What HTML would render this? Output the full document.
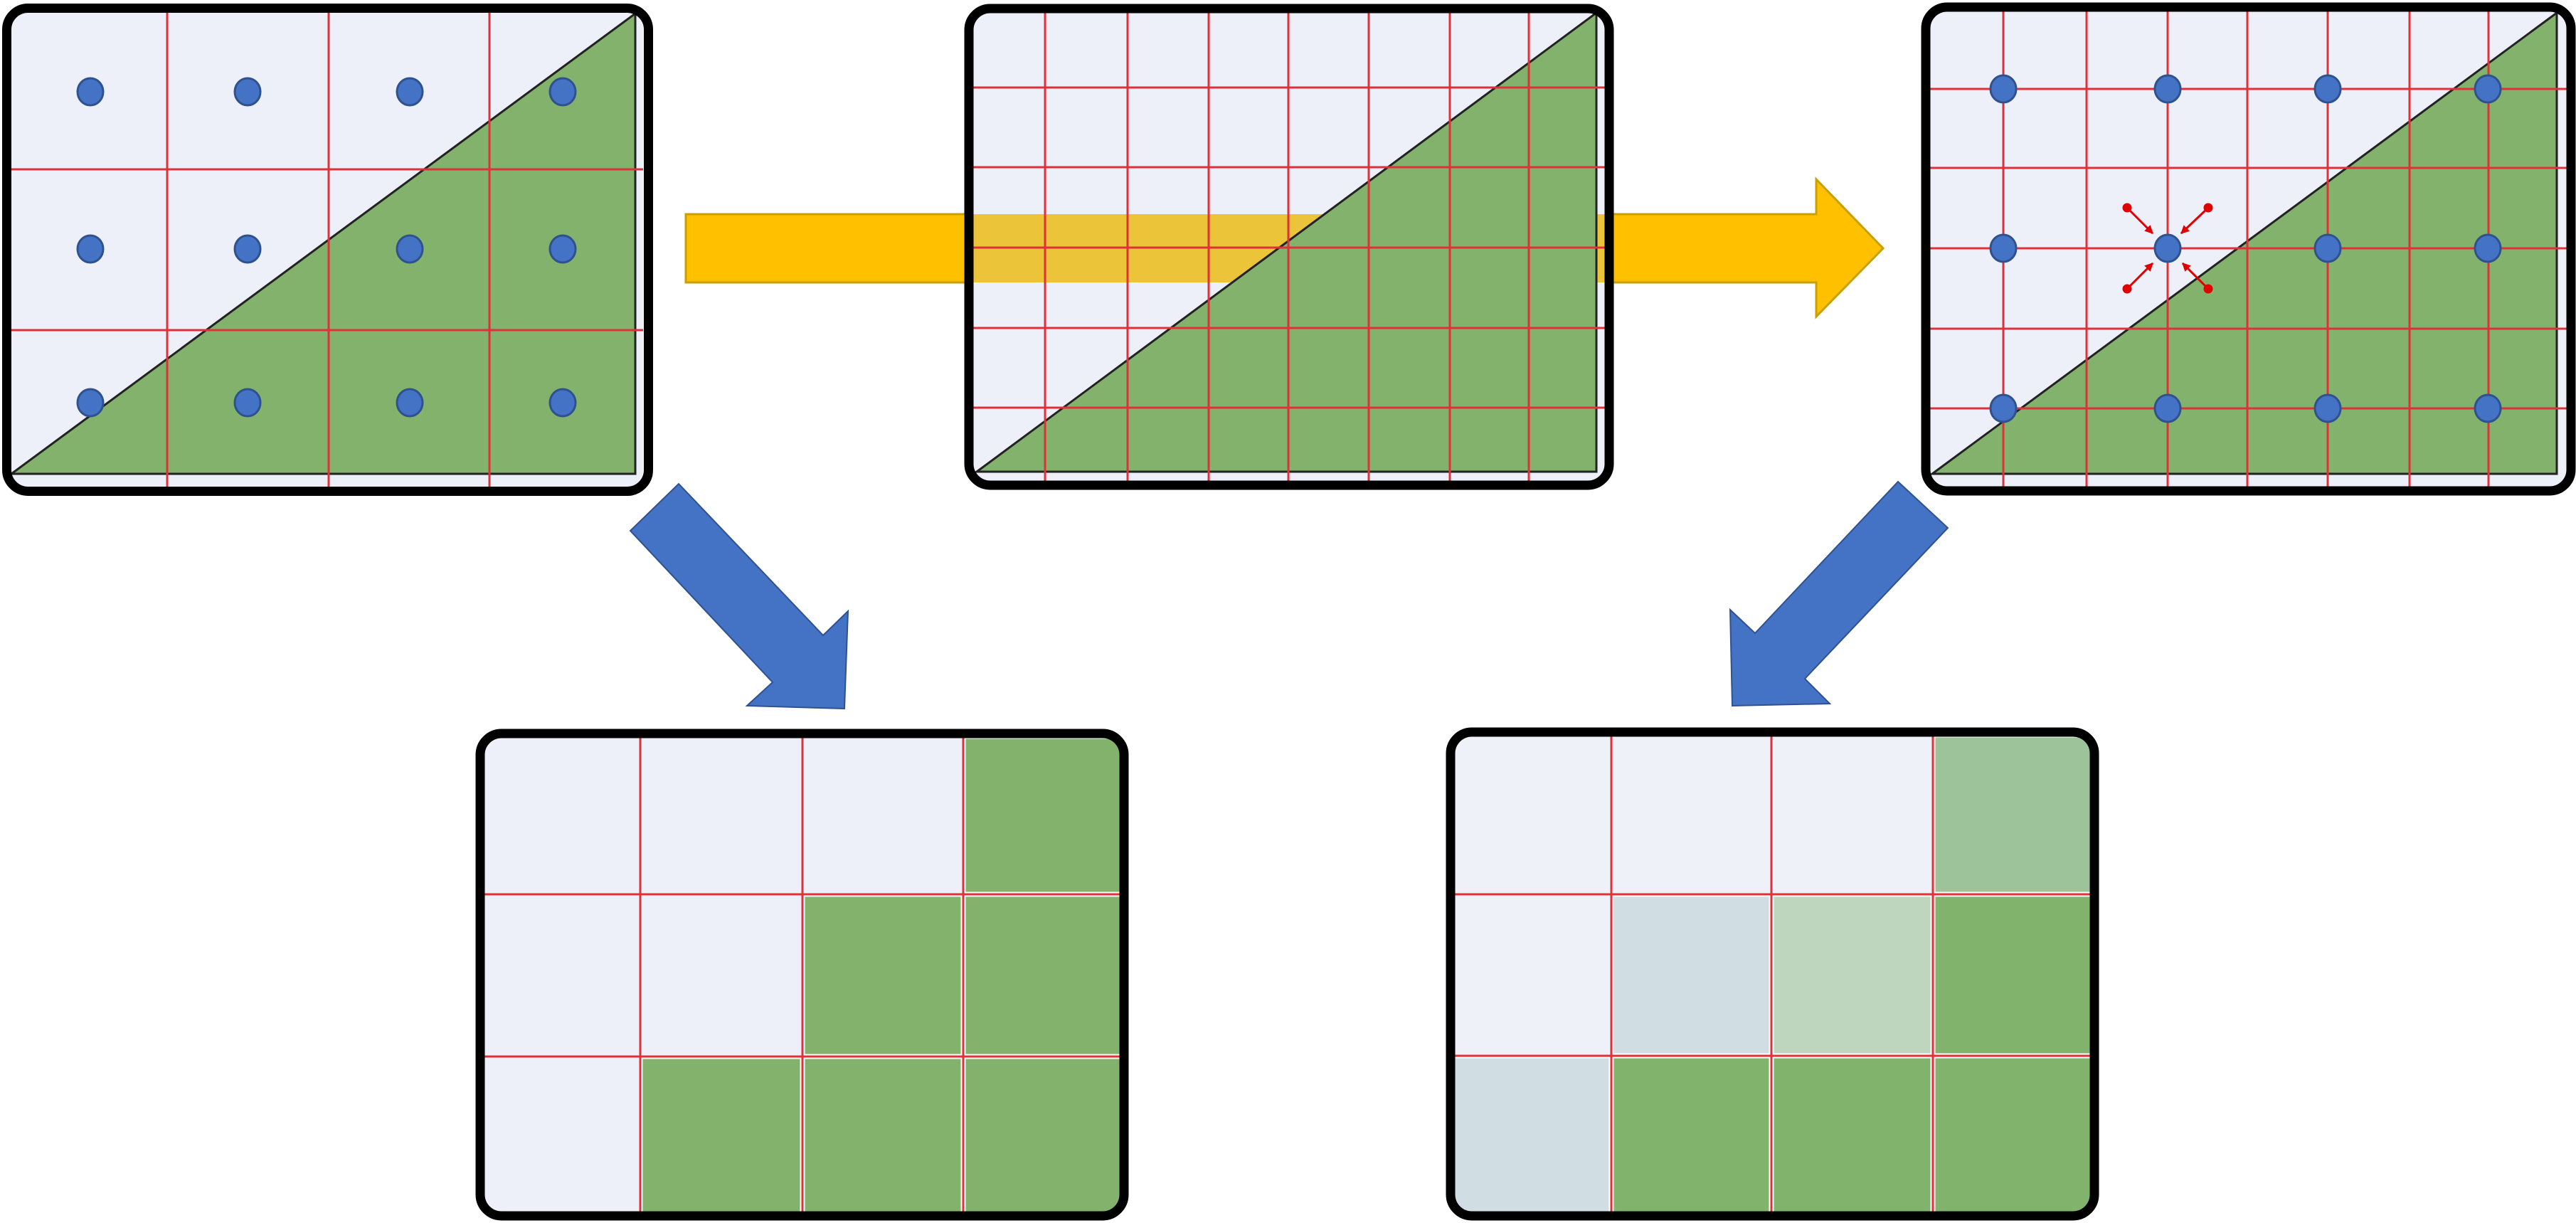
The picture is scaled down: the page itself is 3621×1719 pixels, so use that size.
<!DOCTYPE html>
<html><head><meta charset="utf-8"><style>html,body{margin:0;padding:0;background:#fff}svg{display:block}</style></head>
<body>
<svg width="3621" height="1719" viewBox="0 0 3621 1719" xmlns="http://www.w3.org/2000/svg">
<defs>
<clipPath id="c1"><rect x="14" y="16" width="890" height="669" rx="24"/></clipPath>
<clipPath id="c2"><rect x="1367" y="17" width="889" height="659" rx="24"/></clipPath>
<clipPath id="c3"><rect x="2712" y="14" width="896" height="670" rx="24"/></clipPath>
<clipPath id="c4"><rect x="680" y="1036" width="894" height="667" rx="24"/></clipPath>
<clipPath id="c5"><rect x="2044" y="1034" width="894" height="669" rx="24"/></clipPath>
<marker id="ah" viewBox="0 0 10 10" refX="9" refY="5" markerWidth="4" markerHeight="4" orient="auto"><path d="M0,0 L10,5 L0,10 z" fill="#E00000"/></marker>
</defs>

<polygon points="964,301 2553,301 2553,252 2647,349 2553,445 2553,397 964,397" fill="#FFC000" stroke="#C9A000" stroke-width="3"/>

<!-- Panel 1 -->
<g clip-path="url(#c1)">
<rect x="0" y="0" width="920" height="700" fill="#EDF0F8"/>
<polygon points="16,666 893,19 893,666" fill="#82B26C" stroke="#222" stroke-width="3"/>
<g stroke="#E0303A" stroke-width="3">
<line x1="235" y1="0" x2="235" y2="700"/><line x1="462" y1="0" x2="462" y2="700"/><line x1="688" y1="0" x2="688" y2="700"/>
<line x1="0" y1="238" x2="909" y2="238"/><line x1="0" y1="464" x2="909" y2="464"/>
</g>
<g fill="#4472C4" stroke="#2F528F" stroke-width="3">
<ellipse cx="127" cy="129" rx="18" ry="19"/><ellipse cx="348" cy="129" rx="18" ry="19"/><ellipse cx="576" cy="129" rx="18" ry="19"/><ellipse cx="791" cy="129" rx="18" ry="19"/>
<ellipse cx="127" cy="350" rx="18" ry="19"/><ellipse cx="348" cy="350" rx="18" ry="19"/><ellipse cx="576" cy="350" rx="18" ry="19"/><ellipse cx="791" cy="350" rx="18" ry="19"/>
<ellipse cx="127" cy="566" rx="18" ry="19"/><ellipse cx="348" cy="566" rx="18" ry="19"/><ellipse cx="576" cy="566" rx="18" ry="19"/><ellipse cx="791" cy="566" rx="18" ry="19"/>
</g>
</g>
<rect x="9.5" y="11.5" width="902" height="679" rx="30" fill="none" stroke="#000" stroke-width="13"/>

<!-- Panel 2 -->
<g clip-path="url(#c2)">
<rect x="1356" y="0" width="912" height="700" fill="#EDF0F8"/>
<rect x="1356" y="301" width="912" height="96" fill="#EBC43A"/>
<polygon points="1373,663 2244,18 2244,663" fill="#82B26C" stroke="#222" stroke-width="3"/>
<g stroke="#E0303A" stroke-width="3">
<line x1="1469" y1="0" x2="1469" y2="700"/><line x1="1585" y1="0" x2="1585" y2="700"/><line x1="1699" y1="0" x2="1699" y2="700"/><line x1="1811" y1="0" x2="1811" y2="700"/><line x1="1924" y1="0" x2="1924" y2="700"/><line x1="2038" y1="0" x2="2038" y2="700"/><line x1="2149" y1="0" x2="2149" y2="700"/>
<line x1="1356" y1="123" x2="2256" y2="123"/><line x1="1356" y1="235" x2="2256" y2="235"/><line x1="1356" y1="348" x2="2256" y2="348"/><line x1="1356" y1="461" x2="2256" y2="461"/><line x1="1356" y1="573" x2="2256" y2="573"/>
</g>
</g>
<rect x="1362" y="12" width="900" height="670" rx="30" fill="none" stroke="#000" stroke-width="13"/>

<!-- Panel 3 -->
<g clip-path="url(#c3)">
<rect x="2700" y="0" width="921" height="700" fill="#EDF0F8"/>
<polygon points="2716,666 3594,18 3594,666" fill="#82B26C" stroke="#222" stroke-width="3"/>
<g stroke="#E0303A" stroke-width="3">
<line x1="2816" y1="0" x2="2816" y2="700"/><line x1="2933" y1="0" x2="2933" y2="700"/><line x1="3047" y1="0" x2="3047" y2="700"/><line x1="3159" y1="0" x2="3159" y2="700"/><line x1="3272" y1="0" x2="3272" y2="700"/><line x1="3387" y1="0" x2="3387" y2="700"/><line x1="3498" y1="0" x2="3498" y2="700"/>
<line x1="2700" y1="125" x2="3609" y2="125"/><line x1="2700" y1="236" x2="3609" y2="236"/><line x1="2700" y1="349" x2="3609" y2="349"/><line x1="2700" y1="462" x2="3609" y2="462"/><line x1="2700" y1="574" x2="3609" y2="574"/>
</g>
<g fill="#4472C4" stroke="#2F528F" stroke-width="3">
<ellipse cx="2816" cy="125" rx="18" ry="19"/><ellipse cx="3047" cy="125" rx="18" ry="19"/><ellipse cx="3272" cy="125" rx="18" ry="19"/><ellipse cx="3497" cy="125" rx="18" ry="19"/>
<ellipse cx="2816" cy="349" rx="18" ry="19"/><ellipse cx="3047" cy="349" rx="18" ry="19"/><ellipse cx="3272" cy="349" rx="18" ry="19"/><ellipse cx="3497" cy="349" rx="18" ry="19"/>
<ellipse cx="2816" cy="574" rx="18" ry="19"/><ellipse cx="3047" cy="574" rx="18" ry="19"/><ellipse cx="3272" cy="574" rx="18" ry="19"/><ellipse cx="3497" cy="574" rx="18" ry="19"/>
</g>
<g stroke="#E00000" stroke-width="3" fill="#E00000">
<line x1="2990" y1="292" x2="3026" y2="328" marker-end="url(#ah)"/>
<line x1="3104" y1="292" x2="3066" y2="328" marker-end="url(#ah)"/>
<line x1="2990" y1="406" x2="3026" y2="370" marker-end="url(#ah)"/>
<line x1="3104" y1="406" x2="3068" y2="370" marker-end="url(#ah)"/>
<circle cx="2990" cy="292" r="5"/><circle cx="3104" cy="292" r="5"/><circle cx="2990" cy="406" r="5"/><circle cx="3104" cy="406" r="5"/>
</g>
</g>
<rect x="2707" y="10" width="907" height="680" rx="30" fill="none" stroke="#000" stroke-width="13"/>

<polygon points="886,746 954,680 1157,893 1192,859 1187,996 1050,992 1086,959" fill="#4472C4" stroke="#2F528F" stroke-width="2"/>
<polygon points="2668,677 2738,742 2537,954 2572,989 2435,992 2432,857 2467,890" fill="#4472C4" stroke="#2F528F" stroke-width="2"/>

<!-- Bottom panel 1 -->
<g clip-path="url(#c4)">
<rect x="669" y="1025" width="920" height="700" fill="#EDF0F8"/>
<g fill="#82B26C" stroke="#fff" stroke-width="3">
<rect x="1356" y="1037" width="222" height="218"/>
<rect x="1130" y="1259" width="222" height="224"/>
<rect x="1356" y="1259" width="222" height="224"/>
<rect x="902" y="1487" width="224" height="222"/>
<rect x="1130" y="1487" width="222" height="222"/>
<rect x="1356" y="1487" width="222" height="222"/>
</g>
<g stroke="#E0303A" stroke-width="3">
<line x1="900" y1="1025" x2="900" y2="1715"/><line x1="1128" y1="1025" x2="1128" y2="1715"/><line x1="1354" y1="1025" x2="1354" y2="1715"/>
<line x1="669" y1="1257" x2="1574" y2="1257"/><line x1="669" y1="1485" x2="1574" y2="1485"/>
</g>
</g>
<rect x="675" y="1031" width="905" height="678" rx="30" fill="none" stroke="#000" stroke-width="13"/>

<!-- Bottom panel 2 -->
<g clip-path="url(#c5)">
<rect x="2033" y="1023" width="920" height="700" fill="#EEF1F8"/>
<g stroke="#fff" stroke-width="3">
<rect x="2719" y="1035" width="222" height="220" fill="#9DC39A"/>
<rect x="2267" y="1259" width="221" height="223" fill="#D0DDE3"/>
<rect x="2492" y="1259" width="223" height="223" fill="#BDD6BD"/>
<rect x="2719" y="1259" width="222" height="223" fill="#82B36D"/>
<rect x="2040" y="1486" width="223" height="222" fill="#D0DDE3"/>
<rect x="2267" y="1486" width="221" height="222" fill="#82B36D"/>
<rect x="2492" y="1486" width="223" height="222" fill="#82B36D"/>
<rect x="2719" y="1486" width="222" height="222" fill="#82B36D"/>
</g>
<g stroke="#E0303A" stroke-width="3">
<line x1="2265" y1="1023" x2="2265" y2="1715"/><line x1="2490" y1="1023" x2="2490" y2="1715"/><line x1="2717" y1="1023" x2="2717" y2="1715"/>
<line x1="2033" y1="1257" x2="2939" y2="1257"/><line x1="2033" y1="1484" x2="2939" y2="1484"/>
</g>
</g>
<rect x="2039" y="1029" width="905" height="680" rx="30" fill="none" stroke="#000" stroke-width="13"/>
</svg>
</body></html>
